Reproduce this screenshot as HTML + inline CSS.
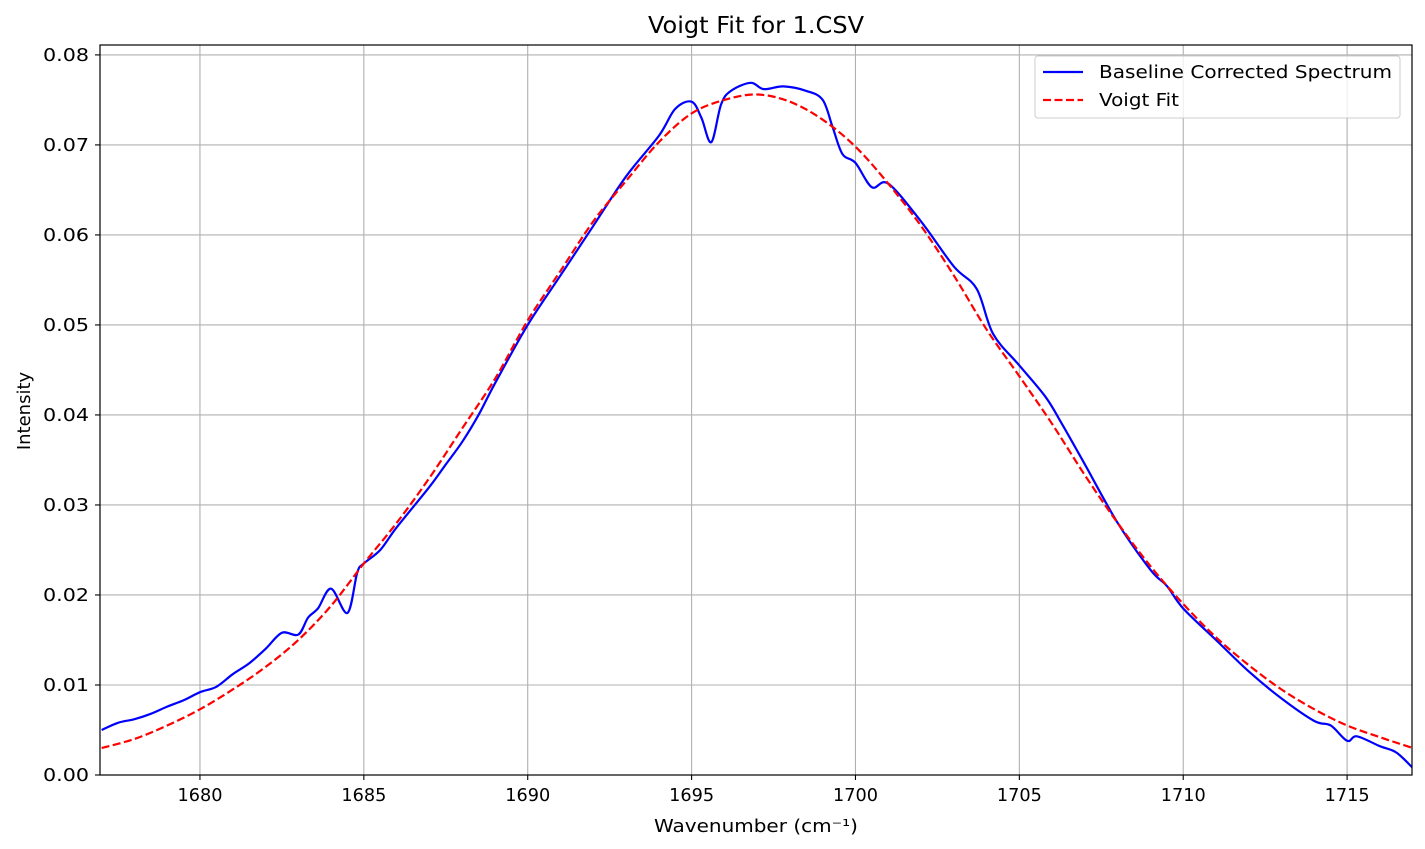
<!DOCTYPE html>
<html><head><meta charset="utf-8"><style>
body{margin:0;background:#fff}
svg{display:block;font-family:"DejaVu Sans","Liberation Sans",sans-serif}
</style></head><body>
<svg id="chart" width="1425" height="849">
<rect width="1425" height="849" fill="#fff"/>
<g id="grid"></g>
<g id="series"></g>
<rect x="100" y="45" width="1312" height="730" fill="none" stroke="#000" stroke-width="1.2"/>
<g id="ticks"></g>
<text x="756" y="33" font-size="23" text-anchor="middle" textLength="216" lengthAdjust="spacingAndGlyphs">Voigt Fit for 1.CSV</text>
<text x="756" y="832" font-size="18" text-anchor="middle" textLength="204" lengthAdjust="spacingAndGlyphs">Wavenumber (cm⁻¹)</text>
<text transform="translate(30,411) rotate(-90)" font-size="18" text-anchor="middle">Intensity</text>
<g>
<rect x="1035" y="56" width="365" height="62" rx="3" fill="#fff" fill-opacity="0.8" stroke="#ccc"/>
<line x1="1043" y1="72" x2="1083" y2="72" stroke="#0000ff" stroke-width="2.2"/>
<text x="1099" y="78" font-size="18" textLength="293" lengthAdjust="spacingAndGlyphs">Baseline Corrected Spectrum</text>
<line x1="1043" y1="100" x2="1083" y2="100" stroke="#ff0000" stroke-width="2.2" stroke-dasharray="8,3.5"/>
<text x="1099" y="106" font-size="18" textLength="80" lengthAdjust="spacingAndGlyphs">Voigt Fit</text>
</g>
</svg>
<script>
const xTicks=[1680,1685,1690,1695,1700,1705,1710,1715];
const yTicks=[0,0.01,0.02,0.03,0.04,0.05,0.06,0.07,0.08];
const yTickLabels=["0.00","0.01","0.02","0.03","0.04","0.05","0.06","0.07","0.08"];
const specX=[1677,1677.5,1678,1678.5,1679,1679.5,1680,1680.5,1681,1681.5,1682,1682.5,1683,1683.3,1683.6,1684,1684.5,1684.8,1685,1685.5,1686,1687,1687.5,1688,1688.5,1689,1690,1691,1692,1693,1694,1694.5,1695,1695.3,1695.6,1695.9,1696.2,1696.8,1697.2,1697.8,1698.5,1699,1699.3,1699.6,1700,1700.5,1701,1702,1703,1703.7,1704.2,1705,1705.8,1706.3,1707,1708,1709,1709.5,1710,1711,1712,1713,1714,1714.5,1715,1715.3,1716,1716.5,1717];
const specY=[0.005,0.0058,0.0062,0.0068,0.0076,0.0083,0.0092,0.0098,0.0112,0.0124,0.014,0.0158,0.0156,0.0175,0.0185,0.0207,0.018,0.0225,0.0235,0.025,0.0275,0.032,0.0345,0.037,0.040,0.0435,0.050,0.0555,0.061,0.0665,0.071,0.074,0.0748,0.073,0.0703,0.0745,0.076,0.0769,0.0762,0.0765,0.076,0.075,0.072,0.069,0.068,0.0653,0.0657,0.0615,0.0565,0.054,0.049,0.0455,0.042,0.039,0.0345,0.028,0.0228,0.021,0.0185,0.015,0.0115,0.0085,0.006,0.0055,0.0038,0.0043,0.0032,0.0025,0.0008];
const fitX=[1677,1678,1679,1680,1681,1682,1683,1684,1685,1686,1687,1688,1689,1690,1691,1692,1693,1694,1695,1696,1697,1698,1699,1700,1701,1702,1703,1704,1705,1706,1707,1708,1709,1710,1711,1712,1713,1714,1715,1716,1717];
const fitY=[0.003,0.004,0.0055,0.0073,0.0095,0.012,0.015,0.0188,0.0235,0.028,0.033,0.0385,0.044,0.0505,0.056,0.0615,0.066,0.0703,0.0735,0.075,0.0756,0.0748,0.0728,0.0698,0.0657,0.061,0.0555,0.0495,0.0443,0.039,0.0333,0.028,0.0232,0.019,0.0153,0.0122,0.0095,0.0073,0.0055,0.0042,0.003];
const L=100,R=1412,T=45,B=775,X0=1676.95,X1=1716.98,Y0=0,Y1=0.0811;
const sx=v=>L+(v-X0)/(X1-X0)*(R-L), sy=v=>B-(v-Y0)/(Y1-Y0)*(B-T);
const NS="http://www.w3.org/2000/svg";
const mk=(p,t,a)=>{const e=document.createElementNS(NS,t);for(const k in a)e.setAttribute(k,a[k]);p.appendChild(e);return e;};
const grid=document.getElementById('grid'),ticks=document.getElementById('ticks'),series=document.getElementById('series');
xTicks.forEach(v=>{const x=sx(v);
 const g=mk(grid,'line',{x1:x,x2:x,y1:T,y2:B,stroke:'#b0b0b0','stroke-width':1.1});
 
 
 const t=mk(ticks,'line',{x1:x,x2:x,y1:B,y2:B+5,stroke:'#000','stroke-width':1.1});
 
 
 const l=mk(ticks,'text',{x:x,y:B+26,'font-size':17.5,'text-anchor':'middle',textLength:45,lengthAdjust:'spacingAndGlyphs'});l.textContent=v;
 
 
});
yTicks.forEach((v,i)=>{const y=sy(v);
 const g=mk(grid,'line',{x1:L,x2:R,y1:y,y2:y,stroke:'#b0b0b0','stroke-width':1.1});
 
 
 const t=mk(ticks,'line',{x1:L-5,x2:L,y1:y,y2:y,stroke:'#000','stroke-width':1.1});
 
 
 const l=mk(ticks,'text',{x:L-11,y:y+6,'font-size':17.5,'text-anchor':'end',textLength:46,lengthAdjust:'spacingAndGlyphs'});l.textContent=yTickLabels[i];
 
 
});
function smooth(xs,ys){const p=xs.map((x,i)=>[sx(x),sy(ys[i])]);let d='M'+p[0][0]+','+p[0][1];
 for(let i=0;i<p.length-1;i++){const p0=p[Math.max(0,i-1)],p1=p[i],p2=p[i+1],p3=p[Math.min(p.length-1,i+2)];
  d+=' C'+(p1[0]+(p2[0]-p0[0])/6)+','+(p1[1]+(p2[1]-p0[1])/6)+' '+(p2[0]-(p3[0]-p1[0])/6)+','+(p2[1]-(p3[1]-p1[1])/6)+' '+p2[0]+','+p2[1];}
 return d;}
const cp=mk(series,'clipPath',{id:'clip'});mk(cp,'rect',{x:L,y:T,width:R-L,height:B-T});
const s=mk(series,'path',{d:smooth(specX,specY),fill:'none',stroke:'#0000ff','stroke-width':2.2,'clip-path':'url(#clip)'});


const f=mk(series,'path',{d:smooth(fitX,fitY),fill:'none',stroke:'#ff0000','stroke-width':2.2,'stroke-dasharray':'8,3.5','clip-path':'url(#clip)'});


</script>
</body></html>
